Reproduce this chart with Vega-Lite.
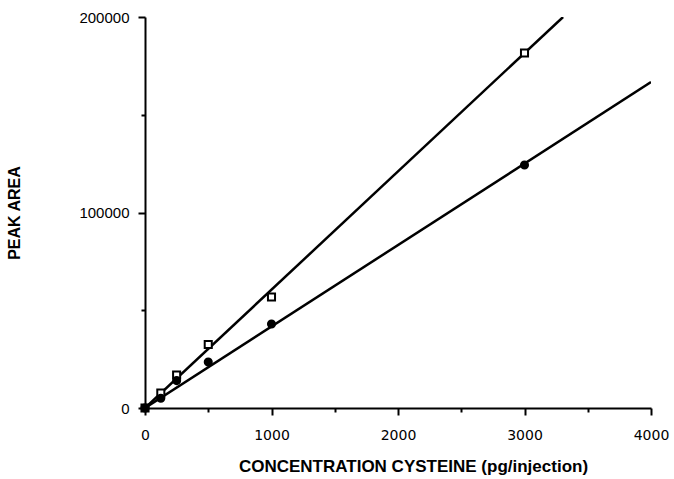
{
  "$schema": "https://vega.github.io/schema/vega-lite/v6.json",
  "width": 506,
  "height": 391,
  "autosize": {"type": "none"},
  "padding": {"left": 145, "top": 17, "right": 23, "bottom": 71},
  "background": "white",
  "config": {
    "view": {"stroke": null},
    "axis": {
      "domainColor": "black",
      "domainWidth": 2,
      "tickColor": "black",
      "tickWidth": 2,
      "grid": false,
      "labelFont": "Liberation Sans",
      "labelFontSize": 15,
      "labelColor": "black",
      "labelFlush": false,
      "titleFont": "Liberation Sans",
      "titleFontSize": 16,
      "titleFontWeight": "bold",
      "titleColor": "black",
      "labelOverlap": false
    }
  },
  "datasets": {
    "points": [
      {"conc": 0, "area": 0, "series": "A"},
      {"conc": 125, "area": 7700, "series": "A"},
      {"conc": 250, "area": 16900, "series": "A"},
      {"conc": 500, "area": 32500, "series": "A"},
      {"conc": 1000, "area": 56800, "series": "A"},
      {"conc": 3000, "area": 181600, "series": "A"},
      {"conc": 0, "area": 0, "series": "B"},
      {"conc": 125, "area": 5000, "series": "B"},
      {"conc": 250, "area": 14000, "series": "B"},
      {"conc": 500, "area": 23500, "series": "B"},
      {"conc": 1000, "area": 43000, "series": "B"},
      {"conc": 3000, "area": 124300, "series": "B"}
    ],
    "fits": [
      {"conc": 0, "area": 0, "series": "A"},
      {"conc": 3305, "area": 200000, "series": "A"},
      {"conc": 0, "area": 0, "series": "B"},
      {"conc": 4000, "area": 166700, "series": "B"}
    ]
  },
  "encoding": {
    "x": {
      "field": "conc", "type": "quantitative",
      "scale": {"domain": [0, 4000], "nice": false},
      "axis": {
        "title": "CONCENTRATION CYSTEINE (pg/injection)",
        "titleFontSize": 17,
        "titleX": 268,
        "values": [0, 500, 1000, 1500, 2000, 2500, 3000, 3500, 4000],
        "format": "d",
        "labelExpr": "datum.value % 1000 === 0 ? datum.label : ''",
        "labelFont": "DejaVu Sans",
        "labelFontSize": 14,
        "tickSize": {"condition": {"test": "datum.value % 1000 === 0", "value": 7}, "value": 4},
        "labelPadding": 13,
        "titlePadding": 16
      }
    },
    "y": {
      "field": "area", "type": "quantitative",
      "scale": {"domain": [0, 200000], "nice": false},
      "axis": {
        "title": "PEAK AREA",
        "values": [0, 50000, 100000, 150000, 200000],
        "format": "d",
        "labelExpr": "datum.value % 100000 === 0 ? datum.label : ''",
        "tickSize": {"condition": {"test": "datum.value % 100000 === 0", "value": 7}, "value": 4},
        "labelPadding": 9,
        "titlePadding": 56
      }
    }
  },
  "layer": [
    {
      "data": {"name": "fits"},
      "mark": {"type": "line", "color": "black", "strokeWidth": 2.5, "clip": true},
      "encoding": {"detail": {"field": "series"}}
    },
    {
      "data": {"name": "points"},
      "mark": {"type": "point", "filled": false, "stroke": "black", "strokeWidth": 2, "opacity": 1},
      "encoding": {
        "shape": {"field": "series", "type": "nominal", "scale": {"domain": ["A", "B"], "range": ["square", "circle"]}, "legend": null},
        "fill": {"field": "series", "type": "nominal", "scale": {"domain": ["A", "B"], "range": ["white", "black"]}, "legend": null},
        "size": {"value": 50}
      }
    }
  ]
}
